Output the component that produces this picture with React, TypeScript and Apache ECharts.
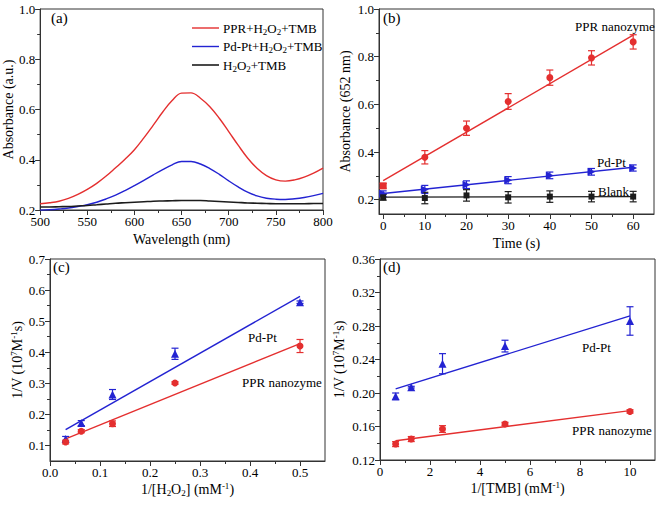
import React, { useEffect, useRef } from 'react';
import * as echarts from 'echarts';

// ---------- Panel (a): UV-vis spectra ----------
const wavelength = [500, 510, 520, 530, 540, 550, 560, 570, 580, 590, 600, 610, 620, 630, 640, 650, 660, 670, 680, 690, 700, 710, 720, 730, 740, 750, 760, 770, 780, 790, 800];
const absPPR = [0.225, 0.229, 0.235, 0.246, 0.262, 0.282, 0.306, 0.335, 0.368, 0.402, 0.440, 0.487, 0.538, 0.590, 0.636, 0.665, 0.666, 0.645, 0.611, 0.565, 0.512, 0.458, 0.407, 0.366, 0.337, 0.320, 0.315, 0.320, 0.331, 0.347, 0.367];
const absPdPt = [0.199, 0.201, 0.204, 0.208, 0.214, 0.221, 0.231, 0.244, 0.259, 0.277, 0.297, 0.318, 0.340, 0.361, 0.380, 0.393, 0.393, 0.383, 0.365, 0.342, 0.316, 0.292, 0.271, 0.256, 0.247, 0.243, 0.242, 0.245, 0.250, 0.257, 0.266];
const absBlank = [0.212, 0.212, 0.213, 0.214, 0.216, 0.218, 0.221, 0.224, 0.227, 0.229, 0.231, 0.233, 0.235, 0.236, 0.237, 0.238, 0.238, 0.238, 0.236, 0.234, 0.232, 0.230, 0.228, 0.227, 0.226, 0.225, 0.225, 0.225, 0.225, 0.226, 0.226];
const legendNames = ['PPR+H2O2+TMB', 'Pd-Pt+H2O2+TMB', 'H2O2+TMB'];
const legendRichNames = [
  '{n|PPR+H}{sub|2}{n|O}{sub|2}{n|+TMB}',
  '{n|Pd-Pt+H}{sub|2}{n|O}{sub|2}{n|+TMB}',
  '{n|H}{sub|2}{n|O}{sub|2}{n|+TMB}',
];

// ---------- Panel (b): kinetics at 652 nm ----------
const timeS = [0, 10, 20, 30, 40, 50, 60];
const pprAbs = [0.258, 0.378, 0.500, 0.612, 0.712, 0.795, 0.862];
const pprAbsErr = [0.010, 0.028, 0.030, 0.033, 0.032, 0.030, 0.030];
const pdptAbs = [0.225, 0.243, 0.263, 0.282, 0.302, 0.317, 0.333];
const pdptAbsErr = [0.012, 0.017, 0.016, 0.015, 0.014, 0.014, 0.013];
const blankAbs = [0.210, 0.207, 0.218, 0.210, 0.213, 0.213, 0.213];
const blankAbsErr = [0.012, 0.024, 0.024, 0.024, 0.024, 0.022, 0.022];
const pprAbsFit = [[0, 0.280], [60, 0.890]];
const pdptAbsFit = [[0, 0.226], [60, 0.336]];
const blankAbsFit = [[0, 0.211], [60, 0.213]];

// ---------- Panel (c): Lineweaver-Burk vs H2O2 ----------
const h2o2Inv = [0.03125, 0.0625, 0.125, 0.25, 0.5];
const pdptC = [0.121, 0.172, 0.264, 0.395, 0.561];
const pdptCErr = [0.008, 0.008, 0.016, 0.018, 0.004];
const pprC = [0.111, 0.146, 0.170, 0.301, 0.420];
const pprCErr = [0.006, 0.005, 0.009, 0.004, 0.021];
const pdptCFit = [[0.03125, 0.151], [0.5, 0.580]];
const pprCFit = [[0.03125, 0.121], [0.5, 0.428]];

// ---------- Panel (d): Lineweaver-Burk vs TMB ----------
const tmbInv = [0.625, 1.25, 2.5, 5, 10];
const pdptD = [0.196, 0.207, 0.235, 0.256, 0.286];
const pdptDErr = [0.004, 0.001, 0.012, 0.007, 0.017];
const pprD = [0.139, 0.145, 0.157, 0.163, 0.178];
const pprDErr = [0.003, 0.003, 0.004, 0.002, 0.002];
const pdptDFit = [[0.625, 0.205], [10, 0.292]];
const pprDFit = [[0.625, 0.143], [10, 0.179]];

// ---------- Tick values ----------
const ticksAX = [500, 550, 600, 650, 700, 750, 800];
const minorAX = [525, 575, 625, 675, 725, 775];
const ticksAY = [0.2, 0.4, 0.6, 0.8, 1.0];
const minorAY = [0.3, 0.5, 0.7, 0.9];
const ticksBX = [0, 10, 20, 30, 40, 50, 60];
const minorBX = [5, 15, 25, 35, 45, 55];
const ticksBY = [0.2, 0.4, 0.6, 0.8, 1.0];
const minorBY = [0.3, 0.5, 0.7, 0.9];
const ticksCX = [0, 0.1, 0.2, 0.3, 0.4, 0.5];
const minorCX = [0.05, 0.15, 0.25, 0.35, 0.45];
const ticksCY = [0.1, 0.2, 0.3, 0.4, 0.5, 0.6, 0.7];
const minorCY = [0.15, 0.25, 0.35, 0.45, 0.55, 0.65];
const ticksDX = [0, 2, 4, 6, 8, 10];
const minorDX = [1, 3, 5, 7, 9];
const ticksDY = [0.12, 0.16, 0.20, 0.24, 0.28, 0.32, 0.36];
const minorDY = [0.14, 0.18, 0.22, 0.26, 0.30, 0.34];

const FONT = 'Liberation Serif';
const RED = '#e42f2f';
const BLUE = '#2323d2';
const BLACK = '#1c1c1c';
const FRAME = '#333333';
const TEXT = '#000000';

const zip = (xs: number[], ys: number[]) => xs.map((x, i) => [x, ys[i]]);
const zip3 = (xs: number[], ys: number[], es: number[]) => xs.map((x, i) => [x, ys[i], es[i]]);

const richStyles = {
  t: { fontSize: 13, fontFamily: FONT, color: TEXT },
  n: { fontSize: 13, fontFamily: FONT, color: TEXT },
  nn: { fontSize: 14, fontFamily: FONT, color: TEXT },
  p: { fontSize: 15, fontFamily: FONT, color: TEXT },
  sub: { fontSize: 9, fontFamily: FONT, color: TEXT, padding: [7, 0, 0, 0] },
  sup: { fontSize: 9, fontFamily: FONT, color: TEXT, padding: [0, 0, 7, 0] },
};

function axisPair(
  dim: 'x' | 'y',
  grid: number,
  min: number,
  max: number,
  majors: number[],
  minors: number[],
  dec: number,
  name: string,
  nameGap: number
) {
  const position = dim === 'x' ? 'bottom' : 'left';
  const main = {
    type: 'value',
    gridIndex: grid,
    min,
    max,
    position,
    axisLine: { show: true, onZero: false, lineStyle: { color: FRAME, width: 1 } },
    axisTick: { show: true, customValues: majors, length: 5, inside: false, lineStyle: { color: FRAME, width: 1 } },
    axisLabel: {
      show: true,
      customValues: majors,
      formatter: (v: number) => '{t|' + Number(v).toFixed(dec) + '}',
      fontFamily: FONT,
      fontSize: 13,
      color: TEXT,
      margin: 5,
      rich: richStyles,
    },
    splitLine: { show: false },
    name,
    nameLocation: 'middle',
    nameGap,
    nameTextStyle: { fontFamily: FONT, fontSize: 14, color: TEXT, rich: richStyles },
  };
  const minor = {
    type: 'value',
    gridIndex: grid,
    min,
    max,
    position,
    axisLine: { show: false, onZero: false },
    axisTick: { show: true, customValues: minors, length: 3, inside: false, lineStyle: { color: FRAME, width: 1 } },
    axisLabel: { show: false },
    splitLine: { show: false },
  };
  return [main, minor];
}

function errorSeries(xi: number, yi: number, data: number[][], color: string) {
  return {
    type: 'custom',
    xAxisIndex: xi,
    yAxisIndex: yi,
    data,
    z: 3,
    silent: true,
    encode: { x: 0, y: 1 },
    renderItem: (_params: any, api: any) => {
      const x = api.value(0);
      const y = api.value(1);
      const e = api.value(2);
      const p1 = api.coord([x, y + e]);
      const p2 = api.coord([x, y - e]);
      const hw = 3.5;
      const style = { stroke: color, lineWidth: 1.2 };
      return {
        type: 'group',
        children: [
          { type: 'line', shape: { x1: p1[0], y1: p1[1], x2: p2[0], y2: p2[1] }, style },
          { type: 'line', shape: { x1: p1[0] - hw, y1: p1[1], x2: p1[0] + hw, y2: p1[1] }, style },
          { type: 'line', shape: { x1: p2[0] - hw, y1: p2[1], x2: p2[0] + hw, y2: p2[1] }, style },
        ],
      };
    },
  };
}

function fitSeries(xi: number, yi: number, data: number[][], color: string) {
  return {
    type: 'line',
    xAxisIndex: xi,
    yAxisIndex: yi,
    data,
    symbol: 'none',
    z: 2,
    silent: true,
    lineStyle: { color, width: 1.4 },
  };
}

function scatterSeries(xi: number, yi: number, data: any[], color: string, symbol: string, size: number, rotate = 0) {
  return {
    type: 'scatter',
    xAxisIndex: xi,
    yAxisIndex: yi,
    data,
    symbol,
    symbolSize: size,
    symbolRotate: rotate,
    z: 4,
    silent: true,
    itemStyle: { color, opacity: 1 },
  };
}

function label(text: string, x: number, y: number, size = 13) {
  return {
    type: 'text',
    x,
    y,
    style: { text, fontFamily: FONT, fontSize: size, fill: TEXT, verticalAlign: 'middle', align: 'left', rich: richStyles },
    silent: true,
  };
}

function legendItem(i: number, color: string, width: number) {
  const y = 28 + i * 18.5;
  return [
    { type: 'line', shape: { x1: 192, y1: y, x2: 219, y2: y }, style: { stroke: color, lineWidth: width }, silent: true },
    label(legendRichNames[i], 223, y, 13),
  ];
}

export default function App() {
  const ref = useRef<HTMLDivElement>(null);
  useEffect(() => {
    if (!ref.current) return;
    const chart = echarts.init(ref.current, undefined, { renderer: 'svg', width: 661, height: 505 });

    const grids = [
      { left: 40, top: 9, width: 283, height: 201 },
      { left: 379, top: 9, width: 275, height: 205 },
      { left: 50, top: 259, width: 275, height: 202 },
      { left: 380, top: 259, width: 275, height: 201 },
    ].map((g) => ({ ...g, show: true, borderColor: FRAME, borderWidth: 1, backgroundColor: 'transparent' }));

    const xAxis = [
      ...axisPair('x', 0, 500, 800, ticksAX, minorAX, 0, '{nn|Wavelength (nm)}', 22),
      ...axisPair('x', 1, -1, 65, ticksBX, minorBX, 0, '{nn|Time (s)}', 22),
      ...axisPair('x', 2, 0, 0.55, ticksCX, minorCX, 1, '{nn|1/[H}{sub|2}{nn|O}{sub|2}{nn|] (mM}{sup|-1}{nn|)}', 20),
      ...axisPair('x', 3, 0, 11, ticksDX, minorDX, 0, '{nn|1/[TMB] (mM}{sup|-1}{nn|)}', 20),
    ];
    const yAxis = [
      ...axisPair('y', 0, 0.2, 1.0, ticksAY, minorAY, 1, '{nn|Absorbance (a.u.)}', 22),
      ...axisPair('y', 1, 0.14, 1.0, ticksBY, minorBY, 1, '{nn|Absorbance (652 nm)}', 27),
      ...axisPair('y', 2, 0.05, 0.7, ticksCY, minorCY, 1, '{nn|1/V (10}{sup|7}{nn|M}{sup|-1}{nn|s)}', 25),
      ...axisPair('y', 3, 0.12, 0.36, ticksDY, minorDY, 2, '{nn|1/V (10}{sup|7}{nn|M}{sup|-1}{nn|s)}', 33),
    ];

    // first kinetic point of the PPR curve is drawn as a square in the reference
    const pprAbsPts = zip(timeS, pprAbs).map((p, i) => (i === 0 ? { value: p, symbol: 'rect', symbolSize: 7 } : p));

    const option: any = {
      animation: false,
      backgroundColor: '#ffffff',
      textStyle: { fontFamily: FONT },
      grid: grids,
      xAxis,
      yAxis,
      series: [
        // (a)
        {
          name: legendNames[0], type: 'line', xAxisIndex: 0, yAxisIndex: 0, data: zip(wavelength, absPPR),
          symbol: 'none', smooth: 0.4, lineStyle: { color: RED, width: 1.4 }, itemStyle: { color: RED }, silent: true,
        },
        {
          name: legendNames[1], type: 'line', xAxisIndex: 0, yAxisIndex: 0, data: zip(wavelength, absPdPt),
          symbol: 'none', smooth: 0.4, lineStyle: { color: BLUE, width: 1.4 }, itemStyle: { color: BLUE }, silent: true,
        },
        {
          name: legendNames[2], type: 'line', xAxisIndex: 0, yAxisIndex: 0, data: zip(wavelength, absBlank),
          symbol: 'none', smooth: 0.4, lineStyle: { color: BLACK, width: 1.6 }, itemStyle: { color: BLACK }, silent: true,
        },
        // (b)
        fitSeries(2, 2, pprAbsFit, RED),
        fitSeries(2, 2, pdptAbsFit, BLUE),
        fitSeries(2, 2, blankAbsFit, BLACK),
        errorSeries(2, 2, zip3(timeS, pprAbs, pprAbsErr), RED),
        errorSeries(2, 2, zip3(timeS, pdptAbs, pdptAbsErr), BLUE),
        errorSeries(2, 2, zip3(timeS, blankAbs, blankAbsErr), BLACK),
        scatterSeries(2, 2, pprAbsPts, RED, 'circle', 7),
        scatterSeries(2, 2, zip(timeS, pdptAbs), BLUE, 'triangle', 8, -90),
        scatterSeries(2, 2, zip(timeS, blankAbs), BLACK, 'rect', 6),
        // (c)
        fitSeries(4, 4, pdptCFit, BLUE),
        fitSeries(4, 4, pprCFit, RED),
        errorSeries(4, 4, zip3(h2o2Inv, pdptC, pdptCErr), BLUE),
        errorSeries(4, 4, zip3(h2o2Inv, pprC, pprCErr), RED),
        scatterSeries(4, 4, zip(h2o2Inv, pdptC), BLUE, 'triangle', 8),
        scatterSeries(4, 4, zip(h2o2Inv, pprC), RED, 'circle', 7),
        // (d)
        fitSeries(6, 6, pdptDFit, BLUE),
        fitSeries(6, 6, pprDFit, RED),
        errorSeries(6, 6, zip3(tmbInv, pdptD, pdptDErr), BLUE),
        errorSeries(6, 6, zip3(tmbInv, pprD, pprDErr), RED),
        scatterSeries(6, 6, zip(tmbInv, pdptD), BLUE, 'triangle', 8),
        scatterSeries(6, 6, zip(tmbInv, pprD), RED, 'circle', 7),
      ],
      graphic: [
        ...legendItem(0, RED, 1.4),
        ...legendItem(1, BLUE, 1.4),
        ...legendItem(2, BLACK, 1.6),
        label('{p|(a)}', 51, 18, 15),
        label('{p|(b)}', 383, 18, 15),
        label('{p|(c)}', 53, 267, 15),
        label('{p|(d)}', 383, 267, 15),
        label('{n|PPR nanozyme}', 575, 26),
        label('{n|Pd-Pt}', 597, 162),
        label('{n|Blank}', 598, 191),
        label('{n|Pd-Pt}', 248, 337),
        label('{n|PPR nanozyme}', 242, 382),
        label('{n|Pd-Pt}', 582, 347),
        label('{n|PPR nanozyme}', 572, 430),
      ],
    };

    chart.setOption(option);
    return () => chart.dispose();
  }, []);

  return (
    <div
      ref={ref}
      style={{ position: 'fixed', left: 0, top: 0, width: 661, height: 505, background: '#fff' }}
    />
  );
}
